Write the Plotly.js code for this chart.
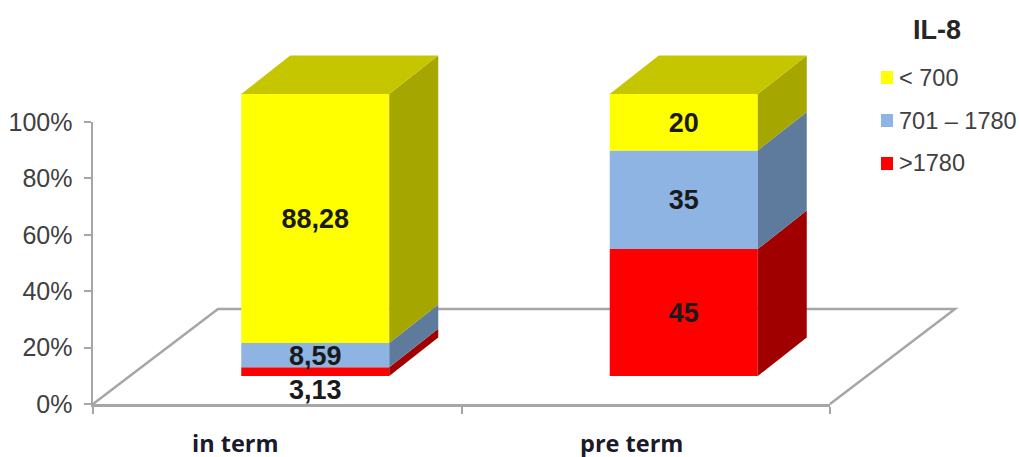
<!DOCTYPE html>
<html><head><meta charset="utf-8">
<script src="https://cdn.plot.ly/plotly-3.0.1.min.js"></script>
<style>html,body{margin:0;padding:0;background:#fff}#c{width:1020px;height:457px}</style>
</head><body><div id="c"></div>
<script>
// ---- data ----
const categories = ['in term', 'pre term'];
const seriesNames = ['>1780', '701 – 1780', '< 700'];
const gt1780 = [3.13, 45];
const mid701 = [8.59, 35];
const lt700 = [88.28, 20];
const labelsGt = ['3,13', '45'];
const labelsMid = ['8,59', '35'];
const labelsLt = ['88,28', '20'];
const yTicks = [0, 20, 40, 60, 80, 100];
const yTickText = ['0%', '20%', '40%', '60%', '80%', '100%'];
const legendTitle = 'IL-8';

// ---- style and pseudo-3D geometry ----
const W = 1020, H = 457;
const L = 93, R = 830, T = 122, B = 404;      // axis box in pixels
const pxX = (R - L) / 2, pxY = (B - T) / 100; // px per x unit / per percent
const front = {dx: 38 / pxX, dy: 28 / pxY};   // bar front plane lift from floor edge
const depth = {dx: 49 / pxX, dy: 38.5 / pxY}; // bar depth
const floorPx = {dx: 125, dy: 95};            // floor depth
const barW = 148 / pxX;
const cols = ['#FF0000', '#8DB4E2', '#FFFF00'];
const sideCols = ['#A00000', '#5E7A9C', '#A6A600'];
const topCol = '#C6C600';
const axisCol = '#A6A6A6';
const textCol = '#404040';
const arial = 'Liberation Sans, Arial, sans-serif';
const labelShift = [[-6.4, 0], [0, 0], [0, 0]]; // value label nudge, percent units
const labelDrop = -1;                            // percent, optical centring
const catLabelPx = [-42, -14];

const series = [gt1780, mid701, lt700];
const labels = [labelsGt, labelsMid, labelsLt];
const idx = categories.map((_, i) => i);

// axis-only trace keeps the visible axes alive
const traces = [{type: 'scatter', mode: 'markers', x: [0], y: [0], xaxis: 'x', yaxis: 'y',
  marker: {opacity: 0}, showlegend: false, hoverinfo: 'skip'}];
const cum = idx.map(() => 0);
const lx = [], ly = [], lt = [];
series.forEach((vals, s) => {
  const bases = idx.map(i => cum[i] + front.dy);
  traces.push({type: 'bar', name: seriesNames[s], xaxis: 'x2', yaxis: 'y2', x: idx.map(i => i + front.dx), y: vals, base: bases,
    width: barW, marker: {color: cols[s], line: {width: 0}}, showlegend: false, hoverinfo: 'name+y'});
  idx.forEach(i => {
    const xr = i + front.dx + barW / 2, xl = xr - barW, b = bases[i], t = b + vals[i];
    traces.push({type: 'scatter', mode: 'lines', fill: 'toself', fillcolor: sideCols[s], line: {width: 0, color: sideCols[s]},
      xaxis: 'x2', yaxis: 'y2', x: [xr, xr + depth.dx, xr + depth.dx, xr, xr], y: [b, b + depth.dy, t + depth.dy, t, b],
      showlegend: false, hoverinfo: 'skip'});
    if (s === series.length - 1) {
      traces.push({type: 'scatter', mode: 'lines', fill: 'toself', fillcolor: topCol, line: {width: 0, color: topCol},
        xaxis: 'x2', yaxis: 'y2', x: [xl, xr, xr + depth.dx, xl + depth.dx, xl], y: [t, t, t + depth.dy, t + depth.dy, t],
        showlegend: false, hoverinfo: 'skip'});
    }
    lx.push(i + front.dx); ly.push((b + t) / 2 + labelShift[s][i] + labelDrop); lt.push(labels[s][i]);
    cum[i] += vals[i];
  });
});
traces.push({type: 'scatter', mode: 'text', xaxis: 'x2', yaxis: 'y2', x: lx, y: ly, text: lt, textposition: 'middle center',
  textfont: {family: arial, size: 27, color: '#1a1a1a', weight: 700}, showlegend: false, hoverinfo: 'skip'});

// helpers: pixel -> paper fraction
const fx = p => p / W, fy = p => 1 - p / H;
const shapes = [{type: 'path', layer: 'below', xref: 'paper', yref: 'paper',
  path: 'M' + fx(L) + ',' + fy(B) + 'L' + fx(L + floorPx.dx) + ',' + fy(B - floorPx.dy) +
        'L' + fx(R + floorPx.dx) + ',' + fy(B - floorPx.dy) + 'L' + fx(R) + ',' + fy(B),
  line: {color: axisCol, width: 2.5}}];

const legendTop = [71, 114, 157], legendColIdx = [2, 1, 0];
const annotations = [{text: '<b>' + legendTitle + '</b>', xref: 'paper', yref: 'paper', x: fx(937), y: fy(30), showarrow: false,
  font: {family: arial, size: 27, color: '#262626'}, xanchor: 'center', yanchor: 'middle'}];
legendTop.forEach((t, k) => {
  shapes.push({type: 'rect', xref: 'paper', yref: 'paper', x0: fx(881), x1: fx(893), y0: fy(t), y1: fy(t + 13),
    fillcolor: cols[legendColIdx[k]], line: {width: 0}});
  annotations.push({text: seriesNames[legendColIdx[k]], xref: 'paper', yref: 'paper', x: fx(899), y: fy(t + 6.5), showarrow: false,
    xanchor: 'left', yanchor: 'middle', font: {family: arial, size: 23.5, color: textCol}, xshift: -2});
});

const layout = {
  width: W, height: H, margin: {l: 0, r: 0, t: 0, b: 0}, paper_bgcolor: '#fff', plot_bgcolor: 'rgba(0,0,0,0)',
  barmode: 'overlay', showlegend: false, shapes, annotations,
  xaxis: {domain: [L / W, R / W], range: [-0.5, 1.5], anchor: 'y', tickmode: 'array', zeroline: false, showgrid: false,
    tickvals: idx.map(i => i + catLabelPx[i] / pxX), ticktext: categories,
    ticks: 'outside', ticklen: 17, tickcolor: 'rgba(0,0,0,0)',
    tickfont: {family: 'Open Sans, sans-serif', size: 23.5, color: '#1a1a2a', weight: 700},
    showline: true, linecolor: axisCol, linewidth: 2.5,
    minor: {tickmode: 'array', tickvals: [-0.5, 0.5, 1.5], ticks: 'outside', ticklen: 7, tickcolor: axisCol, tickwidth: 2, showgrid: false}},
  yaxis: {domain: [(H - B) / H, (H - T) / H], range: [0, 100], anchor: 'x', tickmode: 'array', tickvals: yTicks, ticktext: yTickText,
    ticks: 'outside', ticklen: 7, tickcolor: axisCol, tickwidth: 2, showline: true, linecolor: axisCol, linewidth: 2.5,
    ticklabelstandoff: 6,
    showgrid: false, zeroline: false, tickfont: {family: arial, size: 25, color: textCol}},
  xaxis2: {visible: false, domain: [0, 1], anchor: 'y2', range: [-0.5 - L / pxX, -0.5 + (W - L) / pxX]},
  yaxis2: {visible: false, domain: [0, 1], anchor: 'x2', range: [(B - H) / pxY, B / pxY]}
};
Plotly.newPlot('c', traces, layout, {displayModeBar: false, staticPlot: true});
</script></body></html>
